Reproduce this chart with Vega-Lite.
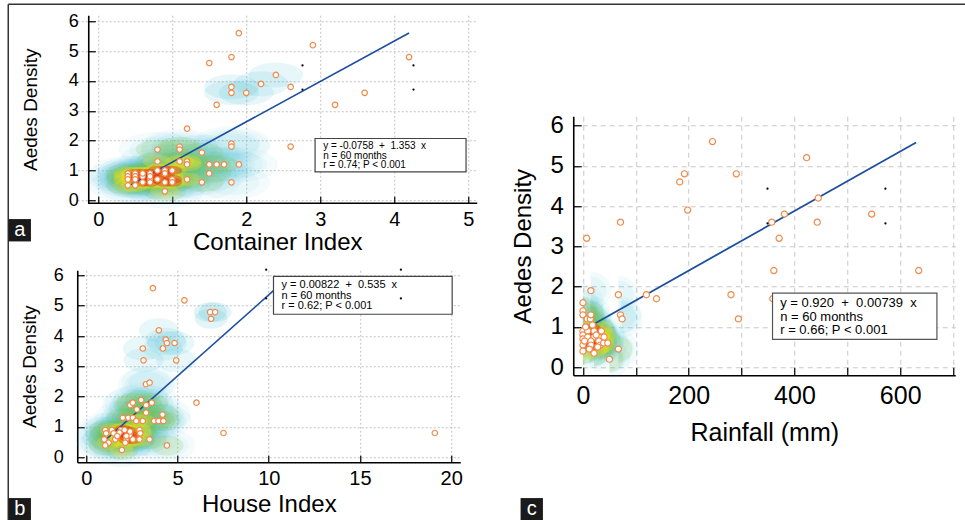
{
  "$schema": "https://vega.github.io/schema/vega-lite/v6.json",
  "background": "white",
  "padding": {"left": 7.25, "top": 3.25, "right": 0, "bottom": 0},
  "config": {"view": {"stroke": null}, "font": "Liberation Sans", "axis": {"labelOverlap": false}},
  "datasets": {
    "one": [{"k": 1}],
    "A": [
      {"x":1.9,"y":5.6},{"x":2.9,"y":5.2},{"x":1.5,"y":4.6},{"x":1.8,"y":4.8},{"x":4.2,"y":4.8},{"x":1.8,"y":3.8},{"x":1.8,"y":3.6},{"x":2.0,"y":3.6},{"x":2.2,"y":3.9},{"x":2.4,"y":4.2},{"x":2.6,"y":3.8},{"x":1.6,"y":3.2},{"x":3.2,"y":3.2},{"x":3.6,"y":3.6},{"x":2.6,"y":1.8},{"x":1.2,"y":2.4},
      {"x":0.4,"y":0.9},{"x":0.4,"y":0.8},{"x":0.4,"y":0.7},{"x":0.4,"y":0.5},{"x":0.5,"y":0.9},{"x":0.5,"y":0.8},{"x":0.5,"y":0.7},{"x":0.5,"y":0.5},{"x":0.6,"y":0.8},{"x":0.7,"y":0.9},{"x":0.7,"y":0.7},{"x":0.7,"y":0.6},{"x":0.8,"y":1.0},{"x":0.8,"y":0.7},{"x":0.8,"y":1.3},{"x":0.8,"y":1.7},{"x":0.9,"y":1.0},{"x":0.9,"y":0.9},{"x":0.9,"y":0.6},{"x":0.9,"y":0.3},{"x":1.0,"y":1.0},{"x":1.0,"y":0.7},{"x":1.0,"y":0.6},{"x":1.1,"y":1.8},{"x":1.1,"y":1.7},{"x":1.1,"y":1.3},{"x":1.2,"y":1.3},{"x":1.2,"y":1.2},{"x":1.2,"y":0.7},{"x":1.4,"y":1.6},{"x":1.4,"y":0.6},{"x":1.5,"y":1.2},{"x":1.5,"y":0.9},{"x":1.6,"y":1.2},{"x":1.7,"y":1.2},{"x":1.9,"y":1.2},{"x":1.8,"y":1.9},{"x":1.8,"y":1.8},{"x":1.8,"y":0.6},{"x":0.6,"y":0.6},{"x":0.7,"y":0.8},{"x":0.6,"y":0.9}
    ],
    "Adots": [{"x":2.76,"y":4.52},{"x":2.76,"y":3.71},{"x":4.26,"y":4.52},{"x":4.26,"y":3.71}],
    "B": [
      {"x":3.65,"y":5.58},{"x":5.38,"y":5.18},{"x":6.79,"y":4.79},{"x":7.06,"y":4.79},{"x":6.84,"y":4.57},{"x":3.98,"y":4.19},{"x":3.1,"y":3.59},{"x":4.36,"y":3.88},{"x":4.42,"y":3.77},{"x":4.84,"y":3.77},{"x":4.2,"y":3.59},{"x":3.14,"y":3.2},{"x":4.93,"y":3.2},{"x":3.27,"y":2.41},{"x":3.47,"y":2.46},{"x":6.04,"y":1.8},{"x":7.52,"y":0.8},{"x":4.42,"y":0.39},{"x":19.1,"y":0.8},
      {"x":2.41,"y":1.72},{"x":2.55,"y":1.8},{"x":3.01,"y":1.89},{"x":3.28,"y":1.72},{"x":3.59,"y":1.8},{"x":2.77,"y":1.58},{"x":2.0,"y":1.3},{"x":2.3,"y":1.3},{"x":2.55,"y":1.3},{"x":2.74,"y":1.2},{"x":3.1,"y":1.2},{"x":3.72,"y":1.2},{"x":3.96,"y":1.2},{"x":4.23,"y":1.2},{"x":4.18,"y":1.41},{"x":3.28,"y":1.47},{"x":1.04,"y":0.9},{"x":1.4,"y":0.9},{"x":1.9,"y":0.9},{"x":2.92,"y":0.9},{"x":1.09,"y":0.79},{"x":1.5,"y":0.79},{"x":1.82,"y":0.81},{"x":2.96,"y":0.79},{"x":0.99,"y":0.59},{"x":1.59,"y":0.59},{"x":2.19,"y":0.59},{"x":2.55,"y":0.59},{"x":2.92,"y":0.59},{"x":3.47,"y":0.59},{"x":1.22,"y":0.48},{"x":2.14,"y":0.48},{"x":1.04,"y":0.39},{"x":2.37,"y":0.73},{"x":1.95,"y":0.24},{"x":2.2,"y":0.7},{"x":2.4,"y":0.85},{"x":1.7,"y":0.7},{"x":2.1,"y":0.9}
    ],
    "Bdots": [{"x":9.86,"y":6.19},{"x":9.86,"y":5.24},{"x":17.24,"y":6.19},{"x":17.24,"y":5.24}],
    "C": [
      {"x":245,"y":5.6},{"x":290,"y":4.8},{"x":192,"y":4.8},{"x":183,"y":4.6},{"x":198,"y":3.9},{"x":71,"y":3.6},{"x":7,"y":3.2},{"x":423,"y":5.2},{"x":445,"y":4.2},{"x":381,"y":3.8},{"x":357,"y":3.6},{"x":443,"y":3.6},{"x":546,"y":3.8},{"x":371,"y":3.2},{"x":361,"y":2.4},{"x":635,"y":2.4},{"x":280,"y":1.8},{"x":359,"y":1.7},{"x":294,"y":1.2},{"x":15,"y":1.9},{"x":67,"y":1.8},{"x":120,"y":1.8},{"x":139,"y":1.7},
      {"x":0,"y":1.6},{"x":0,"y":1.4},{"x":0,"y":1.3},{"x":8,"y":1.2},{"x":14,"y":1.2},{"x":15,"y":1.3},{"x":71,"y":1.3},{"x":74,"y":1.2},{"x":0,"y":0.9},{"x":0,"y":0.8},{"x":0,"y":0.7},{"x":0,"y":0.55},{"x":0,"y":0.4},{"x":9,"y":0.9},{"x":9,"y":0.75},{"x":21,"y":0.9},{"x":21,"y":0.75},{"x":30,"y":0.75},{"x":30,"y":0.65},{"x":15,"y":0.65},{"x":15,"y":0.55},{"x":33,"y":0.55},{"x":39,"y":0.6},{"x":47,"y":0.6},{"x":21,"y":0.35},{"x":50,"y":0.2},{"x":67,"y":0.45},{"x":5,"y":1.0},{"x":25,"y":0.8},{"x":12,"y":0.45},{"x":35,"y":0.9},{"x":3,"y":0.65},{"x":18,"y":1.05},{"x":40,"y":0.75},{"x":28,"y":0.5}
    ],
    "Cdots": [{"x":349,"y":4.43},{"x":349,"y":3.57},{"x":572,"y":4.43},{"x":572,"y":3.57}]
  },
  "hconcat": [
    {
      "bounds": "flush",
      "spacing": 67,
      "vconcat": [
        {
          "width": 400, "height": 188,
          "layer": [
            {"data": {"name": "A"}, "transform": [{"filter": "datum.x < 2.05 && datum.y < 2.05"}],
             "mark": {"type": "point", "shape": "M-1,0A1,0.45,0,1,0,1,0A1,0.45,0,1,0,-1,0Z", "filled": true, "color": "#4cc0d6", "opacity": 0.06, "size": 6000, "strokeWidth": 0},
             "encoding": {"x": {"field": "x", "type": "quantitative"}, "y": {"field": "y", "type": "quantitative"}}},
            {"data": {"name": "A"}, "transform": [{"filter": "datum.x < 2.05 && datum.y < 2.05"}],
             "mark": {"type": "point", "shape": "M-1,0A1,0.45,0,1,0,1,0A1,0.45,0,1,0,-1,0Z", "filled": true, "color": "#4cc0d6", "opacity": 0.07, "size": 3200, "strokeWidth": 0},
             "encoding": {"x": {"field": "x", "type": "quantitative"}, "y": {"field": "y", "type": "quantitative"}}},
            {"data": {"name": "A"}, "transform": [{"filter": "datum.x > 1.7 && datum.x < 2.5 && datum.y > 3.4 && datum.y < 4.3"}],
             "mark": {"type": "point", "shape": "M-1,0A1,0.45,0,1,0,1,0A1,0.45,0,1,0,-1,0Z", "filled": true, "color": "#4cc0d6", "opacity": 0.14, "size": 3000, "strokeWidth": 0},
             "encoding": {"x": {"field": "x", "type": "quantitative"}, "y": {"field": "y", "type": "quantitative"}}},
            {"data": {"name": "A"}, "transform": [{"filter": "datum.x < 1.7 && datum.y < 1.9"}],
             "mark": {"type": "point", "shape": "M-1,0A1,0.45,0,1,0,1,0A1,0.45,0,1,0,-1,0Z", "filled": true, "color": "#7cc243", "opacity": 0.18, "size": 1900, "strokeWidth": 0},
             "encoding": {"x": {"field": "x", "type": "quantitative"}, "y": {"field": "y", "type": "quantitative"}}},
            {"data": {"name": "A"}, "transform": [{"filter": "datum.x < 1.25 && datum.y < 1.35"}],
             "mark": {"type": "point", "shape": "M-1,0A1,0.45,0,1,0,1,0A1,0.45,0,1,0,-1,0Z", "filled": true, "color": "#f4e21c", "opacity": 0.28, "size": 850, "strokeWidth": 0},
             "encoding": {"x": {"field": "x", "type": "quantitative"}, "y": {"field": "y", "type": "quantitative"}}},
            {"data": {"name": "A"}, "transform": [{"filter": "datum.x > 0.45 && datum.x < 1.05 && datum.y > 0.55 && datum.y < 1.05"}],
             "mark": {"type": "point", "shape": "M-1,0A1,0.45,0,1,0,1,0A1,0.45,0,1,0,-1,0Z", "filled": true, "color": "#e3261d", "opacity": 0.4, "size": 380, "strokeWidth": 0},
             "encoding": {"x": {"field": "x", "type": "quantitative"}, "y": {"field": "y", "type": "quantitative"}}},
            {"data": {"name": "one"}, "mark": {"type": "rule", "color": "black", "strokeWidth": 1.6},
             "encoding": {"x": {"datum": -0.1351}, "x2": {"datum": 5.1216}, "y": {"datum": -0.1006}}},
            {"data": {"name": "one"}, "mark": {"type": "rule", "color": "#1d4f9e", "strokeWidth": 1.6},
             "encoding": {"x": {"datum": 0.4}, "x2": {"datum": 4.2}, "y": {"datum": 0.4654}, "y2": {"datum": 5.6068}}},
            {"data": {"name": "A"},
             "mark": {"type": "point", "shape": "circle", "filled": true, "fill": "white", "stroke": "#f08a4b", "strokeWidth": 1.2, "size": 30, "opacity": 1},
             "encoding": {
               "x": {"field": "x", "type": "quantitative",
                 "scale": {"domain": [-0.2838, 5.1216], "nice": false, "zero": false},
                 "axis": {"title": "Container Index", "titleFont": "Liberation Sans", "titleFontSize": 24, "titleFontWeight": "normal", "titleColor": "black", "titlePadding": 1,
                   "values": [0,1,2,3,4,5], "tickCount": 6, "format": "d", "labelOverlap": false, "labelFlush": false,
                   "labelFont": "Liberation Sans", "labelFontSize": 20, "labelColor": "black", "labelPadding": 13,
                   "domain": false, "tickColor": "black", "tickWidth": 1.2, "tickSize": -7,
                   "grid": true, "gridColor": "#c2c2c2", "gridDash": [2, 2]}},
               "y": {"field": "y", "type": "quantitative",
                 "scale": {"domain": [-0.1006, 6.2018], "nice": false, "zero": false},
                 "axis": {"title": "Aedes Density", "titleFont": "Liberation Sans", "titleFontSize": 19, "titleFontWeight": "normal", "titleColor": "black", "titlePadding": 28,
                   "offset": -11,
                   "values": [0,1,2,3,4,5,6], "tickCount": 7, "format": "d", "labelOverlap": false, "labelFlush": false,
                   "labelFont": "Liberation Sans", "labelFontSize": 18, "labelColor": "black", "labelPadding": 17,
                   "domainColor": "black", "domainWidth": 1.6, "tickColor": "black", "tickWidth": 1.2, "tickSize": -7,
                   "grid": true, "gridColor": "#c2c2c2", "gridDash": [2, 2]}}
             }},
            {"data": {"name": "one"}, "mark": {"type": "rect", "fill": "white", "stroke": "#444444", "strokeWidth": 1.2},
             "encoding": {"x": {"datum": 2.93}, "x2": {"datum": 4.97}, "y": {"datum": 2.07}, "y2": {"datum": 0.95}}},
            {"data": {"name": "one"}, "mark": {"type": "text", "text": ["y = -0.0758\u00a0 +\u00a0 1.353\u00a0 x", "n = 60 months", "r = 0.74; P < 0.001"], "align": "left", "baseline": "alphabetic", "font": "Liberation Sans", "fontSize": 10, "lineHeight": 9.4, "color": "black"},
             "encoding": {"x": {"datum": 3.04}, "y": {"datum": 1.711}}},
            {"data": {"name": "Adots"},
             "mark": {"type": "point", "shape": "circle", "filled": true, "color": "black", "size": 5, "opacity": 1},
             "encoding": {"x": {"field": "x", "type": "quantitative"}, "y": {"field": "y", "type": "quantitative"}}},
            {"data": {"name": "one"}, "mark": {"type": "rule", "color": "#333333", "strokeWidth": 1.5},
             "encoding": {"x": {"datum": -1.2162}, "x2": {"datum": 11.716}, "y": {"datum": 6.5705}}},
            {"data": {"name": "one"}, "mark": {"type": "rule", "color": "#333333", "strokeWidth": 1.5},
             "encoding": {"x": {"datum": -1.2162}, "y": {"datum": 6.5705}, "y2": {"datum": -10.727}}},
            {"data": {"name": "one"}, "mark": {"type": "point", "shape": "square", "filled": true, "color": "#1a1a1a", "size": 500, "opacity": 1},
             "encoding": {"x": {"datum": -1.0608}, "y": {"datum": -1.0057}}},
            {"data": {"name": "one"}, "mark": {"type": "text", "text": "a", "font": "Liberation Sans", "fontSize": 20, "color": "white", "align": "center", "baseline": "middle"},
             "encoding": {"x": {"datum": -1.0608}, "y": {"datum": -1.0057}}}
          ]
        },
        {
          "width": 383, "height": 192,
          "layer": [
            {"data": {"name": "B"}, "transform": [{"filter": "datum.x < 5 && datum.y < 2.6"}],
             "mark": {"type": "point", "shape": "M-1,0A1,0.6,0,1,0,1,0A1,0.6,0,1,0,-1,0Z", "filled": true, "color": "#4cc0d6", "opacity": 0.06, "size": 3200, "strokeWidth": 0},
             "encoding": {"x": {"field": "x", "type": "quantitative"}, "y": {"field": "y", "type": "quantitative"}}},
            {"data": {"name": "B"}, "transform": [{"filter": "datum.x < 5 && datum.y < 2.6"}],
             "mark": {"type": "point", "shape": "M-1,0A1,0.6,0,1,0,1,0A1,0.6,0,1,0,-1,0Z", "filled": true, "color": "#4cc0d6", "opacity": 0.07, "size": 1800, "strokeWidth": 0},
             "encoding": {"x": {"field": "x", "type": "quantitative"}, "y": {"field": "y", "type": "quantitative"}}},
            {"data": {"name": "B"}, "transform": [{"filter": "datum.x > 2.9 && datum.x < 5 && datum.y > 3.1 && datum.y < 4.3"}],
             "mark": {"type": "point", "shape": "M-1,0A1,0.6,0,1,0,1,0A1,0.6,0,1,0,-1,0Z", "filled": true, "color": "#4cc0d6", "opacity": 0.13, "size": 1600, "strokeWidth": 0},
             "encoding": {"x": {"field": "x", "type": "quantitative"}, "y": {"field": "y", "type": "quantitative"}}},
            {"data": {"name": "B"}, "transform": [{"filter": "datum.x > 6.5 && datum.x < 7.5 && datum.y > 4.4 && datum.y < 5"}],
             "mark": {"type": "point", "shape": "M-1,0A1,0.6,0,1,0,1,0A1,0.6,0,1,0,-1,0Z", "filled": true, "color": "#4cc0d6", "opacity": 0.17, "size": 1100, "strokeWidth": 0},
             "encoding": {"x": {"field": "x", "type": "quantitative"}, "y": {"field": "y", "type": "quantitative"}}},
            {"data": {"name": "B"}, "transform": [{"filter": "datum.x < 4.5 && datum.y < 1.9"}],
             "mark": {"type": "point", "shape": "M-1,0A1,0.6,0,1,0,1,0A1,0.6,0,1,0,-1,0Z", "filled": true, "color": "#7cc243", "opacity": 0.18, "size": 1100, "strokeWidth": 0},
             "encoding": {"x": {"field": "x", "type": "quantitative"}, "y": {"field": "y", "type": "quantitative"}}},
            {"data": {"name": "B"}, "transform": [{"filter": "datum.x > 1.2 && datum.x < 3.2 && datum.y < 1.25"}],
             "mark": {"type": "point", "shape": "M-1,0A1,0.6,0,1,0,1,0A1,0.6,0,1,0,-1,0Z", "filled": true, "color": "#f4e21c", "opacity": 0.28, "size": 550, "strokeWidth": 0},
             "encoding": {"x": {"field": "x", "type": "quantitative"}, "y": {"field": "y", "type": "quantitative"}}},
            {"data": {"name": "B"}, "transform": [{"filter": "datum.x > 1.7 && datum.x < 2.8 && datum.y > 0.5 && datum.y < 0.95"}],
             "mark": {"type": "point", "shape": "M-1,0A1,0.6,0,1,0,1,0A1,0.6,0,1,0,-1,0Z", "filled": true, "color": "#e3261d", "opacity": 0.42, "size": 260, "strokeWidth": 0},
             "encoding": {"x": {"field": "x", "type": "quantitative"}, "y": {"field": "y", "type": "quantitative"}}},
            {"data": {"name": "one"}, "mark": {"type": "rule", "color": "#1d4f9e", "strokeWidth": 1.6},
             "encoding": {"x": {"datum": 1.0}, "x2": {"datum": 10.26}, "y": {"datum": 0.5432}, "y2": {"datum": 5.497}}},
            {"data": {"name": "B"},
             "mark": {"type": "point", "shape": "circle", "filled": true, "fill": "white", "stroke": "#f08a4b", "strokeWidth": 1.2, "size": 30, "opacity": 1},
             "encoding": {
               "x": {"field": "x", "type": "quantitative",
                 "scale": {"domain": [-0.4932, 20.4932], "nice": false, "zero": false},
                 "axis": {"title": "House Index", "titleFont": "Liberation Sans", "titleFontSize": 24, "titleFontWeight": "normal", "titleColor": "black", "titlePadding": 4,
                   "values": [0,5,10,15,20], "tickCount": 5, "format": "d", "labelOverlap": false, "labelFlush": false,
                   "labelFont": "Liberation Sans", "labelFontSize": 20, "labelColor": "black", "labelPadding": 13,
                   "domainColor": "black", "domainWidth": 1.6, "tickColor": "black", "tickWidth": 1.2, "tickSize": -7,
                   "grid": true, "gridColor": "#c2c2c2", "gridDash": [2, 2]}},
               "y": {"field": "y", "type": "quantitative",
                 "scale": {"domain": [-0.165, 6.1716], "nice": false, "zero": false},
                 "axis": {"title": "Aedes Density", "titleFont": "Liberation Sans", "titleFontSize": 19, "titleFontWeight": "normal", "titleColor": "black", "titlePadding": 14,
                   "values": [0,1,2,3,4,5,6], "tickCount": 7, "format": "d", "labelOverlap": false, "labelFlush": false,
                   "labelFont": "Liberation Sans", "labelFontSize": 18, "labelColor": "black", "labelPadding": 21,
                   "domainColor": "black", "domainWidth": 1.6, "tickColor": "black", "tickWidth": 1.2, "tickSize": -7,
                   "grid": true, "gridColor": "#c2c2c2", "gridDash": [2, 2]}}
             }},
            {"data": {"name": "one"}, "mark": {"type": "rect", "fill": "white", "stroke": "#444444", "strokeWidth": 1.2},
             "encoding": {"x": {"datum": 10.26}, "x2": {"datum": 20.05}, "y": {"datum": 5.97}, "y2": {"datum": 4.72}}},
            {"data": {"name": "one"}, "mark": {"type": "text", "text": ["y = 0.00822\u00a0 +\u00a0 0.535\u00a0 x", "n = 60 months", "r = 0.62; P < 0.001"], "align": "left", "baseline": "alphabetic", "font": "Liberation Sans", "fontSize": 11, "lineHeight": 10.5, "color": "black"},
             "encoding": {"x": {"datum": 10.7}, "y": {"datum": 5.58}}},
            {"data": {"name": "Bdots"},
             "mark": {"type": "point", "shape": "circle", "filled": true, "color": "black", "size": 5, "opacity": 1},
             "encoding": {"x": {"field": "x", "type": "quantitative"}, "y": {"field": "y", "type": "quantitative"}}},
            {"data": {"name": "one"}, "mark": {"type": "point", "shape": "square", "filled": true, "color": "#1a1a1a", "size": 500, "opacity": 1},
             "encoding": {"x": {"datum": -3.6438}, "y": {"datum": -1.7162}}},
            {"data": {"name": "one"}, "mark": {"type": "text", "text": "b", "font": "Liberation Sans", "fontSize": 20, "color": "white", "align": "center", "baseline": "middle"},
             "encoding": {"x": {"datum": -3.6438}, "y": {"datum": -1.7162}}}
          ]
        }
      ]
    },
    {
      "bounds": "flush",
      "spacing": 0,
      "vconcat": [
        {"width": 382, "height": 101, "data": {"name": "one"}, "mark": {"type": "point", "opacity": 0}, "encoding": {}},
        {
          "width": 382, "height": 259,
          "layer": [
            {"data": {"name": "C"}, "transform": [{"filter": "datum.x < 80 && datum.y < 2"}],
             "mark": {"type": "point", "shape": "M0,-1A1.1,1,0,0,1,0,1Z", "filled": true, "color": "#4cc0d6", "opacity": 0.07, "size": 1400, "strokeWidth": 0},
             "encoding": {"x": {"field": "x", "type": "quantitative"}, "y": {"field": "y", "type": "quantitative"}}},
            {"data": {"name": "C"}, "transform": [{"filter": "datum.x < 80 && datum.y < 2"}],
             "mark": {"type": "point", "shape": "M0,-1A1.1,1,0,0,1,0,1Z", "filled": true, "color": "#4cc0d6", "opacity": 0.08, "size": 800, "strokeWidth": 0},
             "encoding": {"x": {"field": "x", "type": "quantitative"}, "y": {"field": "y", "type": "quantitative"}}},
            {"data": {"name": "C"}, "transform": [{"filter": "datum.x < 70 && datum.y < 1.5"}],
             "mark": {"type": "point", "shape": "M0,-1A1.1,1,0,0,1,0,1Z", "filled": true, "color": "#7cc243", "opacity": 0.18, "size": 650, "strokeWidth": 0},
             "encoding": {"x": {"field": "x", "type": "quantitative"}, "y": {"field": "y", "type": "quantitative"}}},
            {"data": {"name": "C"}, "transform": [{"filter": "datum.x < 45 && datum.y > 0.35 && datum.y < 1.05"}],
             "mark": {"type": "point", "shape": "M0,-1A1.1,1,0,0,1,0,1Z", "filled": true, "color": "#f4e21c", "opacity": 0.3, "size": 380, "strokeWidth": 0},
             "encoding": {"x": {"field": "x", "type": "quantitative"}, "y": {"field": "y", "type": "quantitative"}}},
            {"data": {"name": "C"}, "transform": [{"filter": "datum.x < 30 && datum.y > 0.5 && datum.y < 0.95"}],
             "mark": {"type": "point", "shape": "M0,-1A1.1,1,0,0,1,0,1Z", "filled": true, "color": "#e3261d", "opacity": 0.5, "size": 200, "strokeWidth": 0},
             "encoding": {"x": {"field": "x", "type": "quantitative"}, "y": {"field": "y", "type": "quantitative"}}},
            {"data": {"name": "one"}, "mark": {"type": "rule", "color": "#1d4f9e", "strokeWidth": 1.8},
             "encoding": {"x": {"datum": 0}, "x2": {"datum": 630}, "y": {"datum": 0.92}, "y2": {"datum": 5.5757}}},
            {"data": {"name": "C"},
             "mark": {"type": "point", "shape": "circle", "filled": true, "fill": "white", "stroke": "#f08a4b", "strokeWidth": 1.2, "size": 38, "opacity": 1},
             "encoding": {
               "x": {"field": "x", "type": "quantitative",
                 "scale": {"domain": [-18.34, 704.05], "nice": false, "zero": false},
                 "axis": {"title": "Rainfall (mm)", "titleFont": "Liberation Sans", "titleFontSize": 25, "titleFontWeight": "normal", "titleColor": "black", "titlePadding": 12,
                   "values": [0,100,200,300,400,500,600,700], "tickCount": 8, "labelExpr": "datum.value % 200 === 0 ? format(datum.value, 'd') : ''", "labelOverlap": false, "labelFlush": false,
                   "labelFont": "Liberation Sans", "labelFontSize": 25, "labelColor": "black", "labelPadding": 16,
                   "domainColor": "black", "domainWidth": 1.6, "tickColor": "black", "tickWidth": 1.2, "tickSize": -8,
                   "grid": true, "gridColor": "#c8c8c8", "gridDash": [5, 4]}},
               "y": {"field": "y", "type": "quantitative",
                 "scale": {"domain": [-0.1985, 6.2283], "nice": false, "zero": false},
                 "axis": {"title": "Aedes Density", "titleFont": "Liberation Sans", "titleFontSize": 24, "titleFontWeight": "normal", "titleColor": "black", "titlePadding": 14,
                   "values": [0,1,2,3,4,5,6], "tickCount": 7, "format": "d", "labelOverlap": false, "labelFlush": false,
                   "labelFont": "Liberation Sans", "labelFontSize": 24, "labelColor": "black", "labelPadding": 18,
                   "domainColor": "black", "domainWidth": 1.6, "tickColor": "black", "tickWidth": 1.2, "tickSize": -8,
                   "grid": true, "gridColor": "#c8c8c8", "gridDash": [5, 4]}}
             }},
            {"data": {"name": "one"}, "mark": {"type": "rect", "fill": "white", "stroke": "#555555", "strokeWidth": 1.2},
             "encoding": {"x": {"datum": 358.5}, "x2": {"datum": 669.4}, "y": {"datum": 1.84}, "y2": {"datum": 0.69}}},
            {"data": {"name": "one"}, "mark": {"type": "text", "text": ["y = 0.920\u00a0 +\u00a0 0.00739\u00a0 x", "n = 60 months", "r = 0.66; P < 0.001"], "align": "left", "baseline": "alphabetic", "font": "Liberation Sans", "fontSize": 13, "lineHeight": 13.5, "color": "black"},
             "encoding": {"x": {"datum": 373}, "y": {"datum": 1.49}}},
            {"data": {"name": "Cdots"},
             "mark": {"type": "point", "shape": "circle", "filled": true, "color": "black", "size": 5, "opacity": 1},
             "encoding": {"x": {"field": "x", "type": "quantitative"}, "y": {"field": "y", "type": "quantitative"}}},
            {"data": {"name": "one"}, "mark": {"type": "point", "shape": "square", "filled": true, "color": "#1a1a1a", "size": 500, "opacity": 1},
             "encoding": {"x": {"datum": -96.82}, "y": {"datum": -3.5236}}},
            {"data": {"name": "one"}, "mark": {"type": "text", "text": "c", "font": "Liberation Sans", "fontSize": 20, "color": "white", "align": "center", "baseline": "middle"},
             "encoding": {"x": {"datum": -96.82}, "y": {"datum": -3.5236}}}
          ]
        }
      ]
    }
  ],
  "spacing": 496,
  "bounds": "flush"
}
